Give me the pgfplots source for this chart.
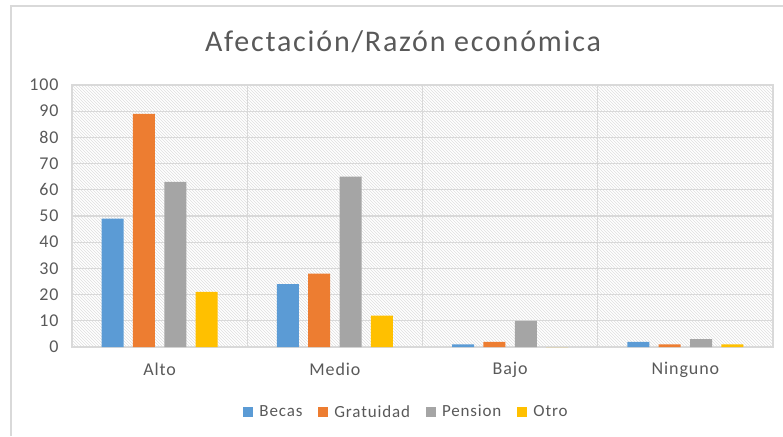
\documentclass[border=0pt]{standalone}
\usepackage{fontspec}
\setmainfont{Carlito}
\newfontfamily\titlefont[LetterSpace=6]{Carlito}
\newfontfamily\lblfont[LetterSpace=5]{Carlito}
\usepackage{pgfplots}
\pgfplotsset{compat=1.18}
\usetikzlibrary{patterns}
\definecolor{cBecas}{HTML}{5B9BD5}
\definecolor{cGrat}{HTML}{ED7D31}
\definecolor{cPens}{HTML}{A5A5A5}
\definecolor{cOtro}{HTML}{FFC000}
\definecolor{txt}{HTML}{595959}
\definecolor{gridc}{HTML}{D9D9D9}
\begin{document}
\begin{tikzpicture}[x=1pt,y=1pt]
\path[use as bounding box] (0,0) rectangle (783,436);
\draw[gridc, line width=1.5pt] (11,0) -- (11,430) -- (783,430);
\node[text=txt, anchor=base, font=\titlefont\fontsize{30}{32}\selectfont] at (403,384) {Afectación/Razón económica};
\begin{axis}[
  at={(72pt,89pt)}, anchor=south west, scale only axis,
  width=701pt, height=262pt,
  xmin=-0.5, xmax=3.5, ymin=0, ymax=100,
  ybar=9.3pt, bar width=22pt,
  xtick={0,1,2,3}, xticklabels={Alto,Medio,Bajo,Ninguno},
  minor xtick={0.5,1.5,2.5}, minor x grid style={gridc, line width=1.3pt},
  xminorgrids,
  ytick distance=10, ymajorgrids, major grid style={gridc, line width=1.3pt},
  major tick length=0, minor tick length=0,
  axis line style={gridc, line width=1.3pt},
  axis background/.style={pattern=north west lines, pattern color=black!13},
  tick label style={text=txt, font=\lblfont\fontsize{18}{20}\selectfont},
  /pgf/number format/assume math mode=true,
  yticklabel style={xshift=-10pt},
  xticklabel style={yshift=-12pt},
  legend columns=4,
  legend style={at={(0.5,-0.24)}, anchor=center, xshift=-16pt, yshift=-2pt,
    draw=none, fill=none,
    font=\lblfont\fontsize{17}{19}\selectfont, text=txt, column sep=14pt,
    /tikz/every odd column/.append style={column sep=4pt}},
  legend image code/.code={\fill[#1,draw=none] (0pt,-5pt) rectangle (10pt,5pt);},
]
\addplot[fill=cBecas, draw=none] coordinates {(0,49) (1,24) (2,1) (3,2)};
\addlegendentry{Becas}
\addplot[fill=cGrat, draw=none] coordinates {(0,89) (1,28) (2,2) (3,1)};
\addlegendentry{Gratuidad}
\addplot[fill=cPens, draw=none] coordinates {(0,63) (1,65) (2,10) (3,3)};
\addlegendentry{Pension}
\addplot[fill=cOtro, draw=none] coordinates {(0,21) (1,12) (2,0) (3,1)};
\addlegendentry{Otro}
\end{axis}
\end{tikzpicture}
\end{document}
